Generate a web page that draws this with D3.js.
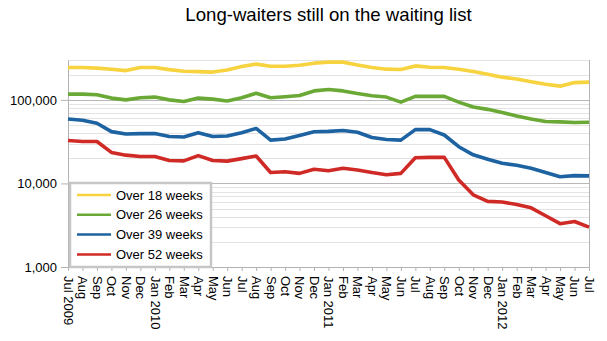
<!DOCTYPE html>
<html>
<head>
<meta charset="utf-8">
<script src="https://cdn.jsdelivr.net/npm/d3@7"></script>
<style>
  body { margin: 0; background: #fff; font-family: "Liberation Sans", Arial, sans-serif; }
  .grid line { stroke: #e3e3e3; stroke-width: 1; }
  .grid line.major { stroke: #b8b8b8; }
  .axis path, .axis line { stroke: #b3b3b3; }
  .axis text { fill: #000; font-size: 13px; font-family: "Liberation Sans", Arial, sans-serif; }
  .series { fill: none; stroke-width: 3.6; stroke-linejoin: round; }
</style>
</head>
<body>
<div id="graph"></div>
<script>
// month labels, Jul 2009 .. Jul 2012
var months = ["Jul 2009", "Aug", "Sep", "Oct", "Nov", "Dec",
  "Jan 2010", "Feb", "Mar", "Apr", "May", "Jun", "Jul", "Aug", "Sep", "Oct", "Nov", "Dec",
  "Jan 2011", "Feb", "Mar", "Apr", "May", "Jun", "Jul", "Aug", "Sep", "Oct", "Nov", "Dec",
  "Jan 2012", "Feb", "Mar", "Apr", "May", "Jun", "Jul"];

var over18 = [244000, 244000, 240000, 233000, 224000, 244000, 244000, 230000, 220000, 218000,
  215000, 228000, 251000, 268000, 253000, 253000, 260000, 275000, 283000, 283000,
  262000, 244000, 233000, 231000, 255000, 246000, 244000, 233000, 218000, 203000,
  187000, 178000, 165000, 154000, 146000, 161000, 163000];

var over26 = [117000, 117000, 115000, 105000, 100000, 106000, 108000, 100000, 95500, 105000,
  102000, 97000, 106000, 120000, 106000, 109000, 113000, 128000, 133000, 128000,
  119000, 112000, 108000, 94000, 110000, 110000, 110000, 94000, 82000, 77000,
  70500, 64000, 59000, 55000, 54500, 53500, 54000];

var over39 = [59000, 57000, 52600, 41700, 39000, 39500, 39500, 36500, 36000, 40500,
  36500, 37000, 40500, 45500, 33000, 34000, 37500, 41500, 42000, 43000,
  41000, 35500, 33500, 33000, 44000, 44000, 38000, 27500, 22000, 19500,
  17400, 16500, 15200, 13500, 12000, 12400, 12300];

var over52 = [32600, 31800, 31800, 23500, 21800, 21000, 21000, 18800, 18600, 21500,
  18800, 18500, 19800, 21300, 13500, 13800, 13200, 14800, 14200, 15200,
  14500, 13500, 12700, 13200, 20300, 20500, 20500, 11000, 7300, 6100,
  6000, 5600, 5100, 4100, 3300, 3500, 3000];

var seriesNames = ["Over 18 weeks", "Over 26 weeks", "Over 39 weeks", "Over 52 weeks"];
var seriesColors = ["#f7d33f", "#6aa935", "#1d62a1", "#d02a26"];
var yTicks = [1000, 10000, 100000];

var margin = {top: 60, right: 18, bottom: 74, left: 68},
    width = 607 - margin.left - margin.right,
    height = 341 - margin.top - margin.bottom;

var svg = d3.select("#graph").append("svg")
  .attr("width", 607)
  .attr("height", 341);

svg.append("text")
  .attr("x", margin.left + width / 2)
  .attr("y", 21)
  .attr("text-anchor", "middle")
  .style("font-size", "18.6px")
  .text("Long-waiters still on the waiting list");

var g = svg.append("g")
  .attr("transform", "translate(" + margin.left + "," + margin.top + ")");

var x = d3.scaleLinear().domain([0, months.length - 1]).range([0, width]);
var y = d3.scaleLog().domain([1000, 300000]).range([height, 0]);

// log gridlines: every 1..9 within each decade up to the top of the domain
var gridVals = [];
[1000, 10000, 100000].forEach(function(base) {
  d3.range(1, 10).forEach(function(m) {
    var v = base * m;
    if (v > 1000 && v <= 300000) gridVals.push(v);
  });
});

g.append("g")
  .attr("class", "grid")
  .selectAll("line")
  .data(gridVals)
  .enter()
  .append("line")
  .attr("class", function(d) { return yTicks.indexOf(d) >= 0 ? "major" : null; })
  .attr("x1", 0)
  .attr("x2", width)
  .attr("y1", function(d) { return Math.round(y(d)) + 0.5; })
  .attr("y2", function(d) { return Math.round(y(d)) + 0.5; });

// right border of the plot area
g.append("line")
  .attr("x1", width + 0.5).attr("x2", width + 0.5)
  .attr("y1", 0).attr("y2", height)
  .style("stroke", "#b3b3b3");

var xaxis = d3.axisBottom(x)
  .tickValues(d3.range(months.length))
  .tickFormat(function(i) { return months[i]; })
  .tickSize(4)
  .tickSizeOuter(0);

var yaxis = d3.axisLeft(y)
  .tickValues(yTicks)
  .tickFormat(d3.format(","))
  .tickSize(7)
  .tickSizeOuter(0);

g.append("g")
  .attr("class", "axis axis--x")
  .attr("transform", "translate(0," + height + ")")
  .call(xaxis)
  .selectAll("text")
  .attr("transform", "rotate(90)")
  .attr("x", 9)
  .attr("y", 0)
  .attr("dy", "0.35em")
  .style("text-anchor", "start");

g.append("g")
  .attr("class", "axis axis--y")
  .call(yaxis)
  .selectAll("text")
  .attr("x", -11);

var line = d3.line()
  .x(function(d, i) { return x(i); })
  .y(function(d) { return y(d); });

var allSeries = [over18, over26, over39, over52];

g.selectAll("path.series")
  .data(allSeries)
  .enter()
  .append("path")
  .attr("class", "series")
  .attr("d", line)
  .style("stroke", function(d, i) { return seriesColors[i]; });

// legend
var legend = g.append("g").attr("transform", "translate(2," + (height - 84) + ")");

legend.append("rect")
  .attr("width", 141)
  .attr("height", 84)
  .style("fill", "#fff")
  .style("stroke", "#c6c6c6")
  .style("stroke-width", 2.5);

seriesNames.forEach(function(name, i) {
  var row = legend.append("g").attr("transform", "translate(0," + (12 + i * 19.8) + ")");
  row.append("line")
    .attr("x1", 7).attr("x2", 41)
    .attr("y1", 0).attr("y2", 0)
    .style("stroke", seriesColors[i])
    .style("stroke-width", 2.5);
  row.append("text")
    .attr("x", 46)
    .attr("dy", "0.35em")
    .style("font-size", "13px")
    .text(name);
});
</script>
</body>
</html>
